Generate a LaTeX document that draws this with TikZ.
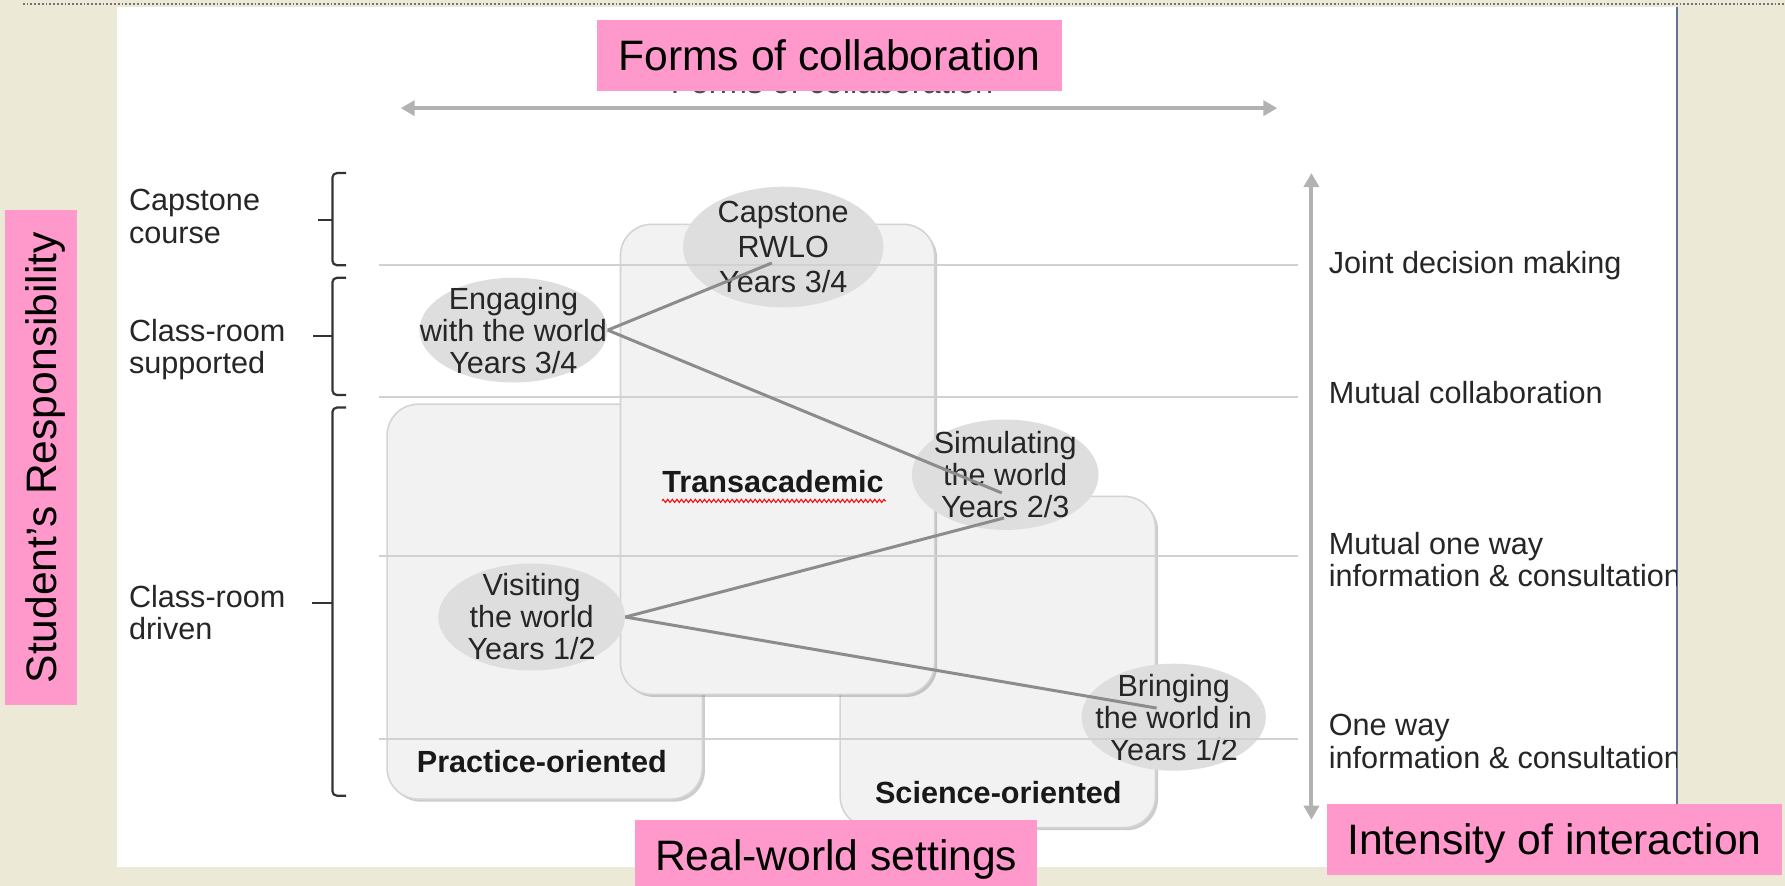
\documentclass[tikz,border=0pt]{standalone}
\usepackage{fontspec}
\setmainfont{Liberation Sans}
\usepackage{tikz}
\usetikzlibrary{arrows.meta}
\usetikzlibrary{shapes.geometric,shadows,calc,decorations.pathmorphing}
\definecolor{bgbeige}{RGB}{236,233,214}
\definecolor{pinklab}{RGB}{255,153,204}
\definecolor{panelrule}{RGB}{96,116,150}
\tikzset{world/.style={ellipse, fill=black!13, inner sep=0pt},
	worldtext/.style={inner sep=0pt, align=center, text=black!85, font=\fontsize{15.3}{16}\selectfont},
	area/.style={rectangle, rounded corners=0.55cm, fill=black!5, draw=black!17, line width=0.8pt, drop shadow={shadow xshift=1.3pt, shadow yshift=-1.3pt, opacity=.4}},
	areatext/.style={inner sep=0pt, text=black!90, font=\bfseries\fontsize{15.3}{17}\selectfont},
	sidetext/.style={anchor=west, inner sep=0pt, align=left, text=black!85, font=\fontsize{15.3}{16.4}\selectfont}
}
\tikzstyle{pinkbox} = [fill=pinklab, inner sep=0pt, text height=15.25pt, text depth=0pt, font=\fontsize{21.3}{25}\selectfont]
\tikzstyle{levelrule} = [draw=black!18, line width=1pt]
\tikzstyle{axisarrow} = [draw=black!30, line width=2pt, {Triangle[length=7pt,width=7.5pt]}-{Triangle[length=7pt,width=7.5pt]}]
\tikzstyle{worldlink} = [draw=black!45, line width=1.5pt]
\tikzstyle{brace} = [draw=black!80, line width=1.1pt, rounded corners=0.08cm]
\begin{document}
\begin{tikzpicture}[x=0.02cm, y=-0.02cm]
	\useasboundingbox (0,0) rectangle (1568,778);
	\fill[bgbeige] (0,0) rectangle (1568,778);
	\draw[densely dotted, black!55, line width=0.9pt] (20,3.5) -- (1568,3.5);
	\fill[white] (103,6) rectangle (1473,762);
	\draw[panelrule, line width=1pt] (1473,6) -- (1473,712);

	% setting boxes
	\node[area, minimum width=5.54cm, minimum height=6.94cm] (practice) at (478.5,528.5) {};
	\node[area, minimum width=5.54cm, minimum height=5.82cm] (science) at (876.5,581.5) {};
	\node[area, minimum width=5.52cm, minimum height=8.26cm] (trans) at (683,403.5) {};
	\node[areatext, anchor=base] (practicelabel) at (476,679) {Practice-oriented};
	\node[areatext, anchor=base] (sciencelabel) at (877,706) {Science-oriented};
	\node[areatext, anchor=base] (translabel) at (679,433) {Transacademic};
	\draw[red, line width=0.5pt, decorate, decoration={zigzag, segment length=2.3pt, amplitude=0.8pt}] ($(translabel.base west)+(0,7)$) -- ($(translabel.base east)+(2,7)$);

	% forms of real-world learning
	\node[world, minimum width=3.52cm, minimum height=2.12cm] (capstone) at (688,217) {};
	\node[world, minimum width=3.30cm, minimum height=1.84cm] (engaging) at (451,290) {};
	\node[world, minimum width=3.28cm, minimum height=1.94cm] (simulating) at (883,417) {};
	\node[world, minimum width=3.28cm, minimum height=1.88cm] (visiting) at (467,542) {};
	\node[world, minimum width=3.24cm, minimum height=1.88cm] (bringing) at (1031,630) {};
	\node[worldtext, font=\fontsize{15.3}{17.6}\selectfont] (capstonetext) at (capstone) {Capstone\\RWLO\\Years 3/4};
	\node[worldtext] (engagingtext) at (engaging) {Engaging\\with the world\\Years 3/4};
	\node[worldtext] (simulatingtext) at (simulating) {Simulating\\the world\\Years 2/3};
	\node[worldtext] (visitingtext) at (visiting) {Visiting\\the world\\Years 1/2};
	\node[worldtext] (bringingtext) at (bringing) {Bringing\\the world in\\Years 1/2};

	\foreach \y in {233,349,488,649}
		\draw[levelrule] (333,\y) -- (1140,\y);

	% draw lines
	\draw[worldlink] (engaging.east) -- ($(capstone.center)+(-10,14)$);
	\draw[worldlink] (engaging.east) -- ($(simulating.center)+(-3,16)$);
	\draw[worldlink] (visiting.east) -- ($(simulating.center)+(-1,38)$);
	\draw[worldlink] (visiting.east) -- ($(bringing.center)+(-15,-8)$);

	% responsibility levels
	\node[sidetext] (capcourse) at (113,190) {Capstone\\course};
	\node[sidetext] (supported) at (113,307) {Class-room\\supported};
	\node[sidetext] (driven) at (113,538) {Class-room\\driven};
	\draw[brace] (304,152) -- (292,152) -- (292,233) -- (304,233);
	\draw[brace] (292,193) -- (279,193);
	\draw[brace] (304,244) -- (292,244) -- (292,347) -- (304,347);
	\draw[brace] (292,295) -- (275,295);
	\draw[brace] (304,358) -- (292,358) -- (292,699) -- (304,699);
	\draw[brace] (292,530) -- (274,530);

	% interaction levels
	\begin{scope}
		\clip (103,6) rectangle (1473,762);
		\node[sidetext] (joint) at (1167,233) {Joint decision making};
		\node[sidetext] (mutualcollab) at (1167,345) {Mutual collaboration};
		\node[sidetext] (mutualone) at (1167,491.5) {Mutual one way\\information \& consultation};
		\node[sidetext] (oneway) at (1167,651.5) {One way\\information \& consultation};
	\end{scope}

	\coordinate (formsleft) at (352,95);
	\coordinate (formsright) at (1122,95);
	\draw[axisarrow] (formsleft) -- (formsright);
	\coordinate (inttop) at (1152,152);
	\coordinate (intbottom) at (1152,720);
	\draw[axisarrow] (inttop) -- (intbottom);

	% captions
	\node[anchor=base, inner sep=0pt, text=black!70, font=\fontsize{16.3}{18}\selectfont] (formsold) at (731,82) {Forms of collaboration};
	\node[pinkbox, minimum width=8.18cm, minimum height=1.25cm] (forms) at (728.5,48.8) {Forms of collaboration};
	\node[pinkbox, rotate=90, minimum width=8.69cm, minimum height=1.26cm] (student) at (36,402) {Student’s Responsibility};
	\node[pinkbox, minimum width=7.06cm, minimum height=1.24cm] (realworld) at (734.5,751) {Real-world settings};
	\node[pinkbox, minimum width=7.98cm, minimum height=1.26cm] (intensity) at (1365.5,737.5) {Intensity of interaction};
\end{tikzpicture}
\end{document}
